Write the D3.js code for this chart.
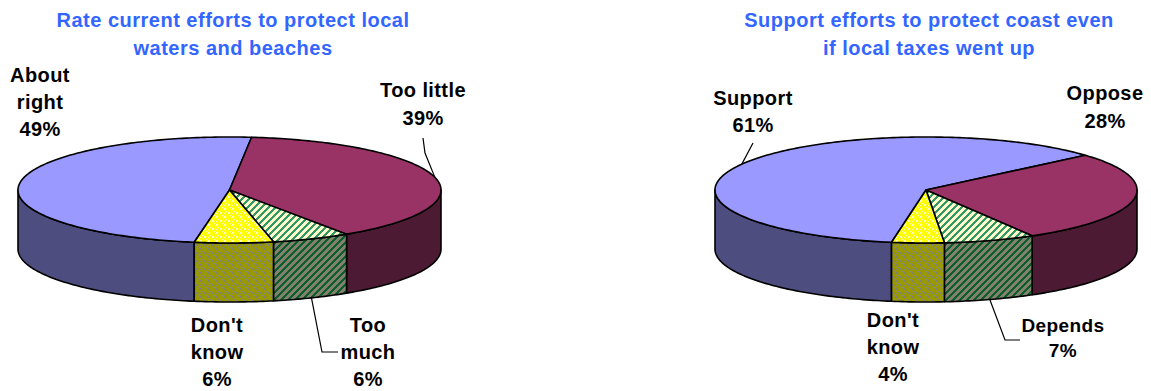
<!DOCTYPE html>
<html><head><meta charset="utf-8">
<script src="https://cdn.jsdelivr.net/npm/d3@7"></script>
<style>html,body{margin:0;padding:0;background:#fff;}svg{display:block;}</style>
</head><body>
<svg id="chart" width="1151" height="391"></svg>
<script>
// ---- data ----
const leftTitle = ["Rate current efforts to protect local", "waters and beaches"];
const leftCategories = ["About right", "Too little", "Too much", "Don't know"];
const leftValues = [49, 39, 6, 6];
const leftLabelLines = [["About", "right", "49%"], ["Too little", "39%"], ["Too", "much", "6%"], ["Don't", "know", "6%"]];

const rightTitle = ["Support efforts to protect coast even", "if local taxes went up"];
const rightCategories = ["Support", "Oppose", "Depends", "Don't know"];
const rightValues = [61, 28, 7, 4];
const rightLabelLines = [["Support", "61%"], ["Oppose", "28%"], ["Depends", "7%"], ["Don't", "know", "4%"]];

// ---- styles ----
const topFills = ["#9999ff", "#993366", "url(#stripeTop)", "url(#checkTop)"];
const wallFills = ["#4d4d80", "#4d1a33", "url(#stripeWall)", "url(#checkWall)"];

const svg = d3.select("#chart");
const defs = svg.append("defs");

function stripePattern(id, bg, fg) {
  const p = defs.append("pattern").attr("id", id).attr("patternUnits", "userSpaceOnUse")
    .attr("width", 7).attr("height", 7);
  p.append("rect").attr("width", 7).attr("height", 7).attr("fill", bg);
  p.append("path").attr("d", "M-1,8 L8,-1 M-4,4 L4,-4 M3,11 L11,3")
    .attr("stroke", fg).attr("stroke-width", 2.6).attr("shape-rendering", "crispEdges");
}
stripePattern("stripeTop", "#ffffcc", "#339966");
stripePattern("stripeWall", "#82826a", "#0f5c30");

function checkPattern(id, a, b) {
  const p = defs.append("pattern").attr("id", id).attr("patternUnits", "userSpaceOnUse")
    .attr("width", 8).attr("height", 8);
  p.append("rect").attr("width", 8).attr("height", 8).attr("fill", a);
  p.append("rect").attr("x", 0).attr("y", 0).attr("width", 2).attr("height", 2).attr("fill", b);
  p.append("rect").attr("x", 4).attr("y", 4).attr("width", 2).attr("height", 2).attr("fill", b);
  [[3,0],[2,3],[7,1],[0,5],[6,7],[3,6],[7,4],[1,7]].forEach(([x, y]) =>
    p.append("rect").attr("x", x).attr("y", y).attr("width", 1).attr("height", 1).attr("fill", b));
}
checkPattern("checkTop", "#ffff00", "#ffffcc");
checkPattern("checkWall", "#999900", "#808080");

function drawPie(cfg) {
  const g = svg.append("g");
  const { cx, cy, rx, ry, depth } = cfg;
  const pie = d3.pie().sort(null).value(d => d)
    .startAngle(cfg.start).endAngle(cfg.start + 2 * Math.PI);
  const arcs = pie(cfg.values);
  const pt = (a, dy = 0) => [cx + rx * Math.sin(a), cy - ry * Math.cos(a) + dy];
  const line = d3.line();
  const sample = (a0, a1, dy) => {
    const n = Math.max(2, Math.ceil(Math.abs(a1 - a0) / (Math.PI / 180)));
    return d3.range(n + 1).map(i => pt(a0 + (a1 - a0) * i / n, dy));
  };
  // walls
  arcs.forEach((d, i) => {
    [0, 2 * Math.PI, -2 * Math.PI].forEach(off => {
      const lo = Math.max(d.startAngle, Math.PI / 2 + off);
      const hi = Math.min(d.endAngle, 3 * Math.PI / 2 + off);
      if (hi > lo) {
        const pts = sample(lo, hi, 0).concat(sample(hi, lo, depth));
        g.append("path").attr("d", line(pts) + "Z")
          .attr("fill", wallFills[i]).attr("stroke", "#000").attr("stroke-width", 1.6)
          .attr("stroke-linejoin", "round");
      }
    });
  });
  // tops
  arcs.forEach((d, i) => {
    const pts = [[cx, cy]].concat(sample(d.startAngle, d.endAngle, 0));
    g.append("path").attr("d", line(pts) + "Z")
      .attr("fill", topFills[i]).attr("stroke", "#000").attr("stroke-width", 1.6)
      .attr("stroke-linejoin", "round");
  });
  // titles
  cfg.title.forEach((t, k) => {
    g.append("text").attr("x", cfg.titleX).attr("y", 27 + k * 28)
      .attr("text-anchor", "middle").attr("fill", "#3366ff")
      .attr("font-family", "Liberation Sans, Arial, sans-serif").attr("font-weight", "bold")
      .attr("font-size", 20).attr("letter-spacing", 0.5).text(t);
  });
  // labels
  arcs.forEach((d, i) => {
    const L = cfg.labels[i];
    const lines = cfg.labelLines[i];
    const txt = g.append("text").attr("text-anchor", "middle")
      .attr("font-family", "Liberation Sans, Arial, sans-serif").attr("font-weight", "bold")
      .attr("font-size", L.fs || 20).attr("letter-spacing", 0.4).attr("fill", "#000");
    lines.forEach((s, k) => txt.append("tspan").attr("x", L.x).attr("y", L.y + k * (L.lh || 27)).text(s));
    if (L.leader) {
      const mid = (d.startAngle + d.endAngle) / 2;
      const front = Math.cos(mid) < 0;
      const end = pt(mid, front ? depth : 0);
      g.append("path").attr("d", line(L.leader.concat([end])))
        .attr("fill", "none").attr("stroke", "#000").attr("stroke-width", 1.2);
    }
  });
}

const deg = Math.PI / 180;
drawPie({
  cx: 229.5, cy: 190, rx: 211.5, ry: 53, depth: 59, start: 189.6 * deg,
  values: leftValues, title: leftTitle, titleX: 233, labelLines: leftLabelLines,
  labels: [
    { x: 40, y: 82 },
    { x: 423, y: 97, lh: 28, leader: [[423, 138], [425, 153]] },
    { x: 368, y: 332, leader: [[338, 352], [322, 352]] },
    { x: 217, y: 332 }
  ]
});
drawPie({
  cx: 926, cy: 190, rx: 211, ry: 53, depth: 59, start: 189.4 * deg,
  values: rightValues, title: rightTitle, titleX: 929, labelLines: rightLabelLines,
  labels: [
    { x: 753, y: 105, lh: 27, leader: [[753, 143]] },
    { x: 1105, y: 100, lh: 28 },
    { x: 1063, y: 332, lh: 25, fs: 19, leader: [[1020, 340], [1005, 340]] },
    { x: 893, y: 327, lh: 27 }
  ]
});
</script>
</body></html>
